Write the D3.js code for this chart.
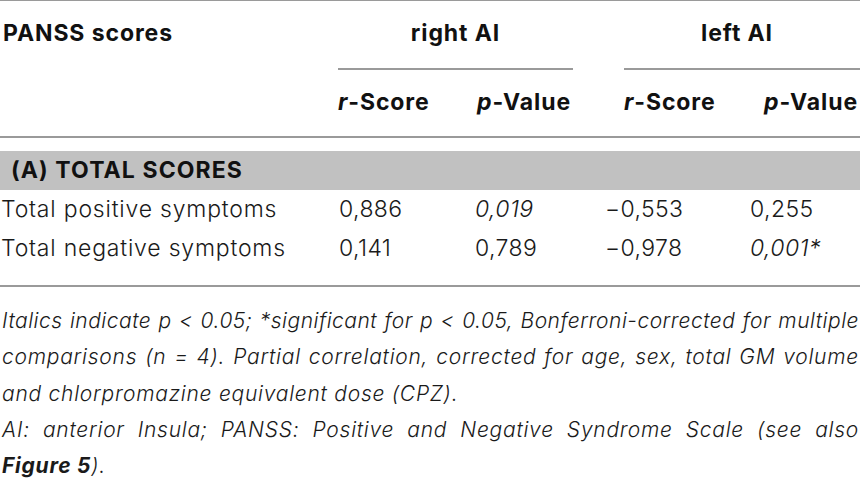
<!DOCTYPE html>
<html>
<head>
<meta charset="utf-8">
<script src="https://cdn.jsdelivr.net/npm/d3@7"></script>
<style>
  body { margin: 0; background: #fff; }
  svg { display: block; }
  text { font-family: Inter, "Liberation Sans", Arial, sans-serif; }
</style>
</head>
<body>
<svg id="table" width="860" height="485"></svg>
<script>
// table content
const stubTitle = "PANSS scores";
const groups = ["right AI", "left AI"];
const subHeaders = [["r", "-Score"], ["p", "-Value"]];
const sectionTitle = "(A) TOTAL SCORES";
const rowLabels = ["Total positive symptoms", "Total negative symptoms"];
const rightR = [0.886, 0.141];
const rightP = [0.019, 0.789];
const leftR = [-0.553, -0.978];
const leftP = [0.255, 0.001];
const alpha = 0.05, nTests = 4;

const footLines = [
    { t: "Italics indicate p < 0.05; *significant for p < 0.05, Bonferroni-corrected for multiple", justify: true },
    { t: "comparisons (n = 4). Partial correlation, corrected for age, sex, total GM volume", justify: true },
    { t: "and chlorpromazine equivalent dose (CPZ).", justify: false },
    { t: "AI: anterior Insula; PANSS: Positive and Negative Syndrome Scale (see also", justify: true },
    { t: "**Figure 5**).", justify: false }
];

const svg = d3.select("#table");
const W = 860;
const fmt = d3.formatLocale({ decimal: ",", thousands: ".", grouping: [3], currency: ["", ""], minus: "\u2212" }).format(".3f");

// column layout
const cols = ["label", "rightR", "rightP", "leftR", "leftP"];
const colX = d3.scaleOrdinal().domain(cols).range([1, 339, 475, 605, 750]);
const groupSpan = d3.scaleOrdinal().domain(groups).range([[338, 573], [624, 860]]);
const rowY = d3.scalePoint().domain(rowLabels).range([217, 256]);

const rule = (x1, x2, y) => svg.append("line")
    .attr("x1", x1).attr("x2", x2).attr("y1", y).attr("y2", y)
    .attr("stroke", "#9a9a9a").attr("stroke-width", 2);

// bold header text
const head = (x, y, anchor) => svg.append("text").attr("x", x).attr("y", y)
    .attr("text-anchor", anchor || "start")
    .attr("font-size", 23).attr("font-weight", 700).attr("letter-spacing", 0.9).attr("fill", "#111");

rule(0, W, 0);
rule(0, W, 137);
rule(0, W, 286);

// header
head(3, 41).text(stubTitle);

groups.forEach(g => {
    const [a, b] = groupSpan(g);
    rule(a, b, 69);
    head(g === "left AI" ? 737 : (a + b) / 2, 41, "middle").text(g);
    subHeaders.forEach(([v, rest], i) => {
        const t = head(i === 0 ? a : b - 2, 110, i === 0 ? "start" : "end");
        t.append("tspan").attr("font-style", "italic").text(v);
        t.append("tspan").text(rest);
    });
});

// section band
svg.append("rect").attr("x", 0).attr("y", 151).attr("width", W).attr("height", 39).attr("fill", "#c1c1c1");
head(11, 178).attr("letter-spacing", 1.1).text(sectionTitle);

// body rows
const rows = rowLabels.map((label, i) => ({
    label, rightR: rightR[i], rightP: rightP[i], leftR: leftR[i], leftP: leftP[i]
}));

rows.forEach(r => {
    cols.forEach(c => {
        const v = r[c];
        const isP = c === "rightP" || c === "leftP";
        let txt = c === "label" ? v : fmt(v);
        if (isP && v < alpha / nTests) txt += "*";
        svg.append("text")
            .attr("x", colX(c)).attr("y", rowY(r.label))
            .attr("font-size", 23).attr("font-weight", 300).attr("fill", "#1a1a1a")
            .attr("letter-spacing", c === "label" ? 0.8 : 0.4)
            .attr("font-style", isP && v < alpha ? "italic" : "normal")
            .text(txt);
    });
});

// footnote, justified lines get their word spacing from the measured width
const footY = d3.scalePoint().domain(d3.range(footLines.length)).range([328, 473]);
footLines.forEach((ln, i) => {
    const t = svg.append("text").attr("x", 2).attr("y", footY(i))
        .attr("font-size", 21).attr("font-style", "italic").attr("font-weight", 300)
        .attr("letter-spacing", 0.75).attr("fill", "#1a1a1a");
    ln.t.split(/(\*\*[^*]+\*\*)/).filter(s => s).forEach(part => {
        const bold = part.startsWith("**");
        t.append("tspan").attr("font-weight", bold ? 700 : 300).text(bold ? part.slice(2, -2) : part);
    });
    if (ln.justify) {
        let w = t.node().getComputedTextLength();
        if (w > W - 3) {
            t.attr("letter-spacing", 0.5);
            w = t.node().getComputedTextLength();
        }
        const gaps = ln.t.split(" ").length - 1;
        t.attr("word-spacing", (W - 3 - w) / gaps);
    }
});
</script>
</body>
</html>
